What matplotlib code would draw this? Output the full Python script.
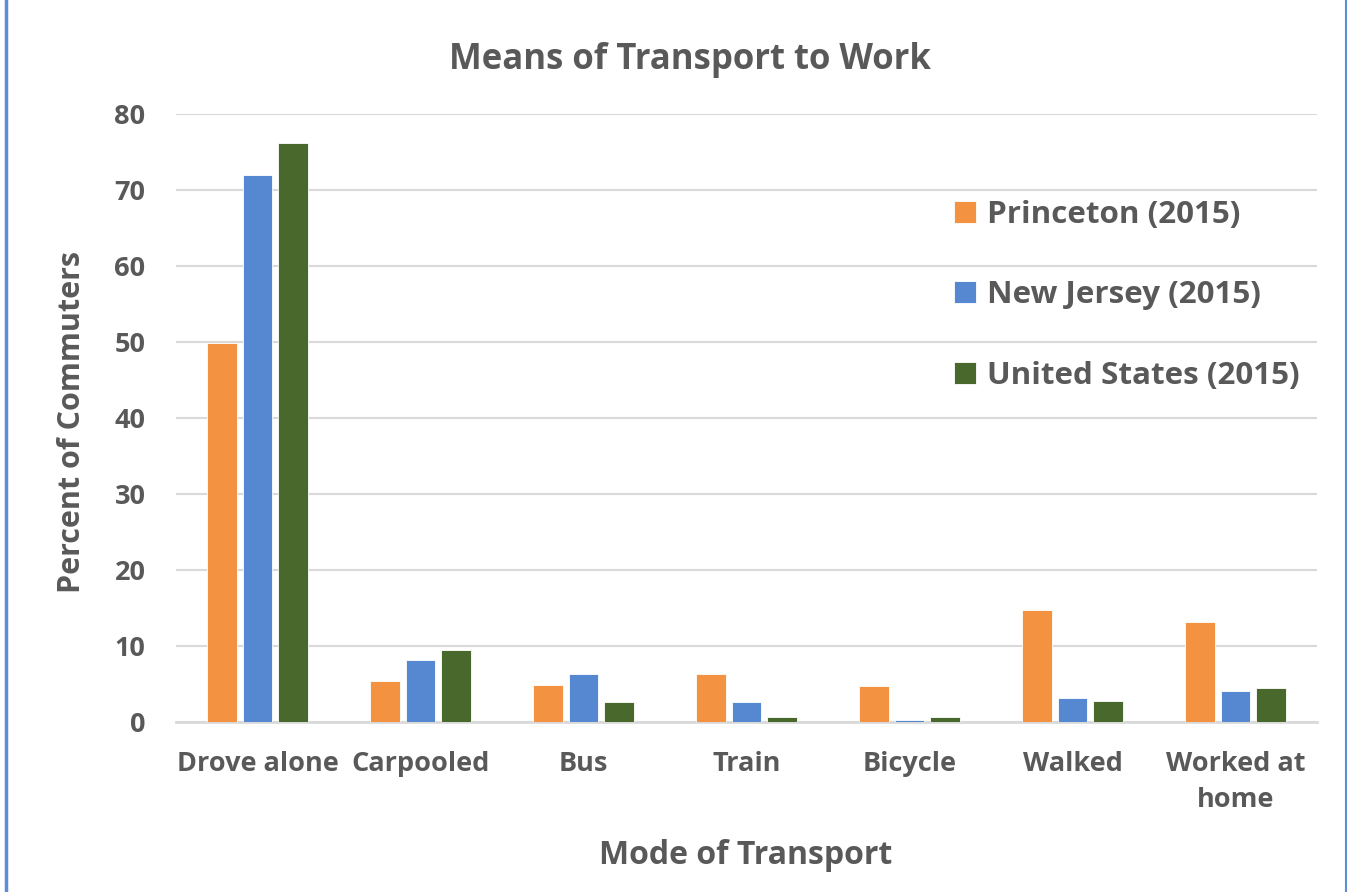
import numpy as np
import matplotlib
matplotlib.use('Agg')
import matplotlib.pyplot as plt
from matplotlib.lines import Line2D

# data
modes = ['Drove alone', 'Carpooled', 'Bus', 'Train', 'Bicycle', 'Walked', 'Worked at\nhome']
princeton = [49.9, 5.4, 4.9, 6.3, 4.8, 14.7, 13.2]
new_jersey = [72.0, 8.2, 6.3, 2.6, 0.3, 3.2, 4.1]
united_states = [76.2, 9.5, 2.6, 0.6, 0.6, 2.8, 4.5]
series_names = ['Princeton (2015)', 'New Jersey (2015)', 'United States (2015)']
colors = ['#F39240', '#5588D1', '#48682C']
yticks = [0, 10, 20, 30, 40, 50, 60, 70, 80]

txt = '#595959'
plt.rcParams['font.family'] = ['Open Sans', 'DejaVu Sans']
plt.rcParams['font.weight'] = 'bold'

fig = plt.figure(figsize=(13.5, 8.92), dpi=100)
ax = fig.add_axes([176/1350, 1-722/892, (1317-176)/1350, (722-114)/892])

x = np.arange(len(modes))
w = 0.184
step = 0.215
for i, vals in enumerate([princeton, new_jersey, united_states]):
    ax.bar(x + (i-1)*step, vals, width=w, color=colors[i], edgecolor='white',
           linewidth=0.6, label=series_names[i], zorder=3)

ax.set_xlim(-0.5, len(modes)-0.5)
ax.set_ylim(0, 80)
ax.set_yticks(yticks)
ax.set_xticks(x)
ax.set_xticklabels(modes, fontsize=19.5, color=txt, fontweight='bold', linespacing=1.5)
ax.set_yticklabels([str(t) for t in yticks], fontsize=19.5, color=txt, fontweight='bold')
ax.tick_params(length=0)
ax.tick_params(axis='x', pad=21)
ax.tick_params(axis='y', pad=22)
ax.grid(axis='y', color='#D9D9D9', linewidth=1.5, zorder=0)
for s in ['top', 'right', 'left']:
    ax.spines[s].set_visible(False)
ax.spines['bottom'].set_color('#D9D9D9')
ax.spines['bottom'].set_linewidth(2)

fig.text(690/1350, 1-60/892, 'Means of Transport to Work', ha='center', va='center',
         fontsize=25, color=txt, fontweight='bold')
fig.text(72/1350, 1-422/892, 'Percent of Commuters', ha='center', va='center', rotation=90,
         fontsize=22, color=txt, fontweight='bold')
fig.text(746/1350, 1-855/892, 'Mode of Transport', ha='center', va='center',
         fontsize=23, color=txt, fontweight='bold')

leg = ax.legend(loc='upper left', bbox_to_anchor=((926-176)/(1317-176), (722-172)/(722-114)),
                frameon=False, fontsize=22.6, labelcolor=txt, handlelength=0.7, handleheight=0.7,
                handletextpad=0.35, labelspacing=1.6)
for t in leg.get_texts():
    t.set_fontweight('bold')

fig.add_artist(Line2D([6/1350, 6/1350], [0, 1], color='#5B8ED6', linewidth=2.5))
fig.add_artist(Line2D([1346/1350, 1346/1350], [0, 1], color='#5B8ED6', linewidth=1.5))

fig.savefig('out.png', dpi=100)
